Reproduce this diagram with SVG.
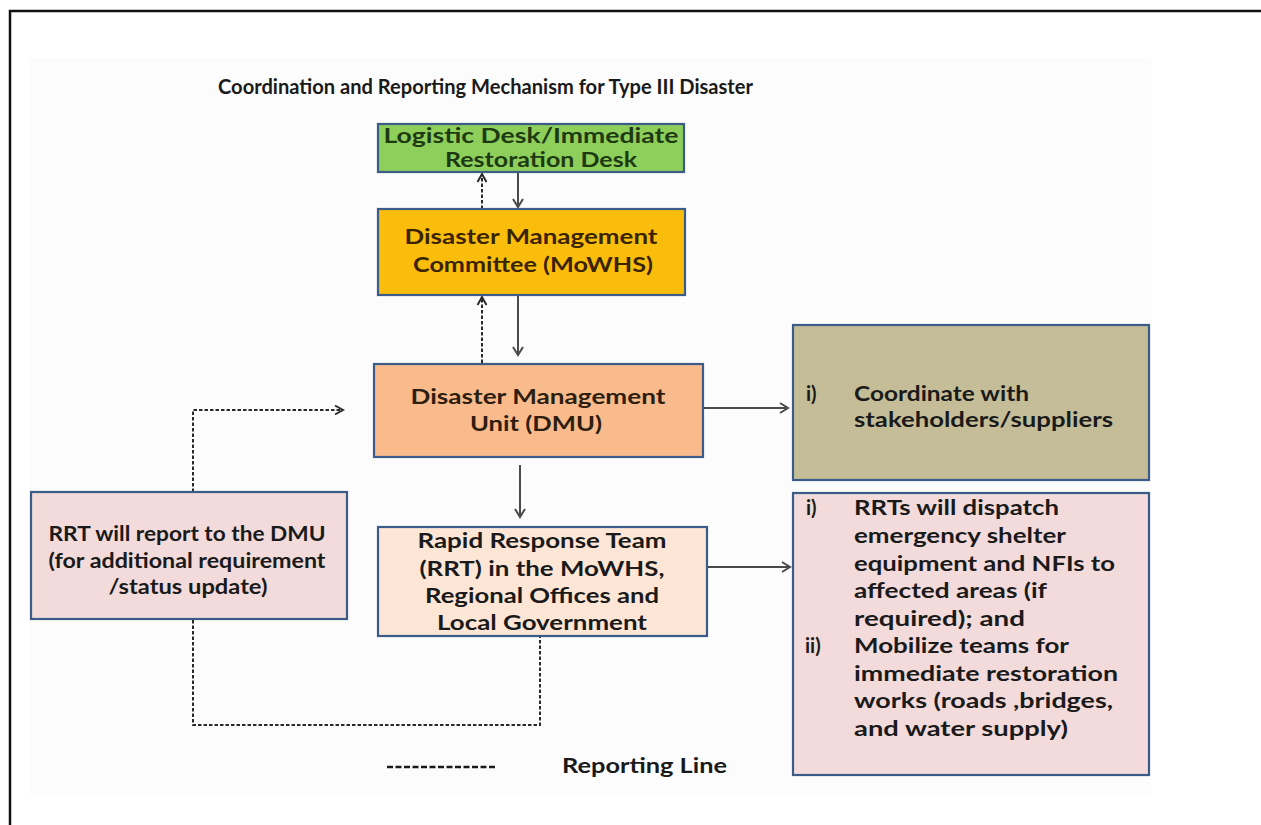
<svg xmlns="http://www.w3.org/2000/svg" width="1261" height="825" viewBox="0 0 1261 825">
  <style>
    .t { font-family: Lato, "Open Sans", "Liberation Sans", sans-serif; font-weight: 700; font-size: 20px; fill: #1a1a1a; }
    .c { text-anchor: middle; }
    .box { stroke: #3b5c88; stroke-width: 2.2; }
    .ln { fill: none; stroke: #4a4a4a; stroke-width: 2; }
    .dash { fill: none; stroke: #2a2a2a; stroke-width: 2; stroke-dasharray: 3.5 2; }
  </style>
  <defs>
    <marker id="arr" markerUnits="userSpaceOnUse" markerWidth="14" markerHeight="14" refX="10" refY="6" orient="auto">
      <path d="M2,1 L10,6 L2,11" fill="none" stroke="#4a4a4a" stroke-width="2"/>
    </marker>
    <marker id="arrd" markerUnits="userSpaceOnUse" markerWidth="14" markerHeight="14" refX="10" refY="6" orient="auto">
      <path d="M2,1.5 L10,6 L2,10.5" fill="none" stroke="#2a2a2a" stroke-width="2"/>
    </marker>
  </defs>

  <rect x="0" y="0" width="1261" height="825" fill="#ffffff"/>
  <!-- page frame -->
  <polyline points="10,825 10,11 1261,11" fill="none" stroke="#111" stroke-width="2.5"/>
  <!-- slide area -->
  <rect x="29" y="58" width="1122" height="736" fill="#fcfcfc"/>

  <text class="t" x="218" y="94" font-size="19" textLength="535" lengthAdjust="spacingAndGlyphs">Coordination and Reporting Mechanism for Type III Disaster</text>

  <!-- connectors -->
  <g id="connectors">
    <line class="dash" x1="482" y1="209" x2="482" y2="174" marker-end="url(#arrd)"/>
    <line class="ln" x1="518" y1="172" x2="518" y2="207" marker-end="url(#arr)"/>
    <line class="dash" x1="482" y1="363" x2="482" y2="297" marker-end="url(#arrd)"/>
    <line class="ln" x1="518" y1="295" x2="518" y2="355" marker-end="url(#arr)"/>
    <line class="ln" x1="520" y1="465" x2="520" y2="517" marker-end="url(#arr)"/>
    <line class="ln" x1="704" y1="408" x2="788" y2="408" marker-end="url(#arr)"/>
    <line class="ln" x1="708" y1="567" x2="790" y2="567" marker-end="url(#arr)"/>
    <polyline class="dash" points="193,492 193,410 343,410" marker-end="url(#arrd)"/>
    <polyline class="dash" points="193,620 193,725 540,725 540,637"/>
  </g>

  <g id="logistic-desk">
    <rect class="box" x="378" y="124" width="306" height="48" fill="#8ecf5c"/>
    <text class="t c" x="531" y="143" style="fill:#1d3a12" textLength="295" lengthAdjust="spacingAndGlyphs">Logistic Desk/Immediate</text>
    <text class="t c" x="541" y="167" style="fill:#1d3a12" textLength="192" lengthAdjust="spacingAndGlyphs">Restoration Desk</text>
  </g>

  <g id="dm-committee">
    <rect class="box" x="378" y="209" width="307" height="86" fill="#fbbd0c"/>
    <text class="t c" x="531" y="244" style="fill:#3a2400" textLength="253" lengthAdjust="spacingAndGlyphs">Disaster Management</text>
    <text class="t c" x="533" y="272" style="fill:#3a2400" textLength="240" lengthAdjust="spacingAndGlyphs">Committee (MoWHS)</text>
  </g>

  <g id="dmu">
    <rect class="box" x="374" y="364" width="329" height="93" fill="#f9bb8b"/>
    <text class="t c" x="538" y="404" style="fill:#2e1e10" textLength="255" lengthAdjust="spacingAndGlyphs">Disaster Management</text>
    <text class="t c" x="536" y="431" style="fill:#2e1e10" textLength="132" lengthAdjust="spacingAndGlyphs">Unit (DMU)</text>
  </g>

  <g id="rrt">
    <rect class="box" x="378" y="527" width="329" height="109" fill="#fde6d5"/>
    <text class="t c" x="542" y="548" textLength="249" lengthAdjust="spacingAndGlyphs">Rapid Response Team</text>
    <text class="t c" x="542" y="576" textLength="245" lengthAdjust="spacingAndGlyphs">(RRT) in the MoWHS,</text>
    <text class="t c" x="542" y="603" textLength="234" lengthAdjust="spacingAndGlyphs">Regional Offices and</text>
    <text class="t c" x="542" y="630" textLength="210" lengthAdjust="spacingAndGlyphs">Local Government</text>
  </g>

  <g id="rrt-report">
    <rect class="box" x="31" y="492" width="316" height="127" fill="#f2dbda"/>
    <text class="t c" x="187" y="541" textLength="277" lengthAdjust="spacingAndGlyphs">RRT will report to the DMU</text>
    <text class="t c" x="187" y="568" textLength="277" lengthAdjust="spacingAndGlyphs">(for additional  requirement</text>
    <text class="t c" x="188" y="594" textLength="159" lengthAdjust="spacingAndGlyphs">/status update)</text>
  </g>

  <g id="coordinate">
    <rect class="box" x="793" y="325" width="356" height="155" fill="#c5bd98"/>
    <text class="t" x="806" y="401">i)</text>
    <text class="t" x="854" y="401" textLength="175" lengthAdjust="spacingAndGlyphs">Coordinate with</text>
    <text class="t" x="854" y="427" textLength="259" lengthAdjust="spacingAndGlyphs">stakeholders/suppliers</text>
  </g>

  <g id="rrt-actions">
    <rect class="box" x="793" y="493" width="356" height="282" fill="#f2dbda"/>
    <text class="t" x="806" y="515">i)</text>
    <text class="t" x="854" y="515" textLength="205" lengthAdjust="spacingAndGlyphs">RRTs will dispatch</text>
    <text class="t" x="854" y="543" textLength="212" lengthAdjust="spacingAndGlyphs">emergency shelter</text>
    <text class="t" x="854" y="571" textLength="261" lengthAdjust="spacingAndGlyphs">equipment and NFIs to</text>
    <text class="t" x="854" y="598" textLength="193" lengthAdjust="spacingAndGlyphs">affected areas (if</text>
    <text class="t" x="854" y="626" textLength="171" lengthAdjust="spacingAndGlyphs">required);  and</text>
    <text class="t" x="805" y="653">ii)</text>
    <text class="t" x="854" y="653" textLength="215" lengthAdjust="spacingAndGlyphs">Mobilize teams for</text>
    <text class="t" x="854" y="681" textLength="264" lengthAdjust="spacingAndGlyphs">immediate  restoration</text>
    <text class="t" x="854" y="708" textLength="259" lengthAdjust="spacingAndGlyphs">works  (roads ,bridges,</text>
    <text class="t" x="854" y="736" textLength="214" lengthAdjust="spacingAndGlyphs">and water supply)</text>
  </g>

  <g id="legend">
    <line x1="387" y1="767" x2="497" y2="767" stroke="#1a1a1a" stroke-width="2.6" stroke-dasharray="6 2.5"/>
    <text class="t" x="562" y="773" textLength="165" lengthAdjust="spacingAndGlyphs">Reporting Line</text>
  </g>
</svg>
